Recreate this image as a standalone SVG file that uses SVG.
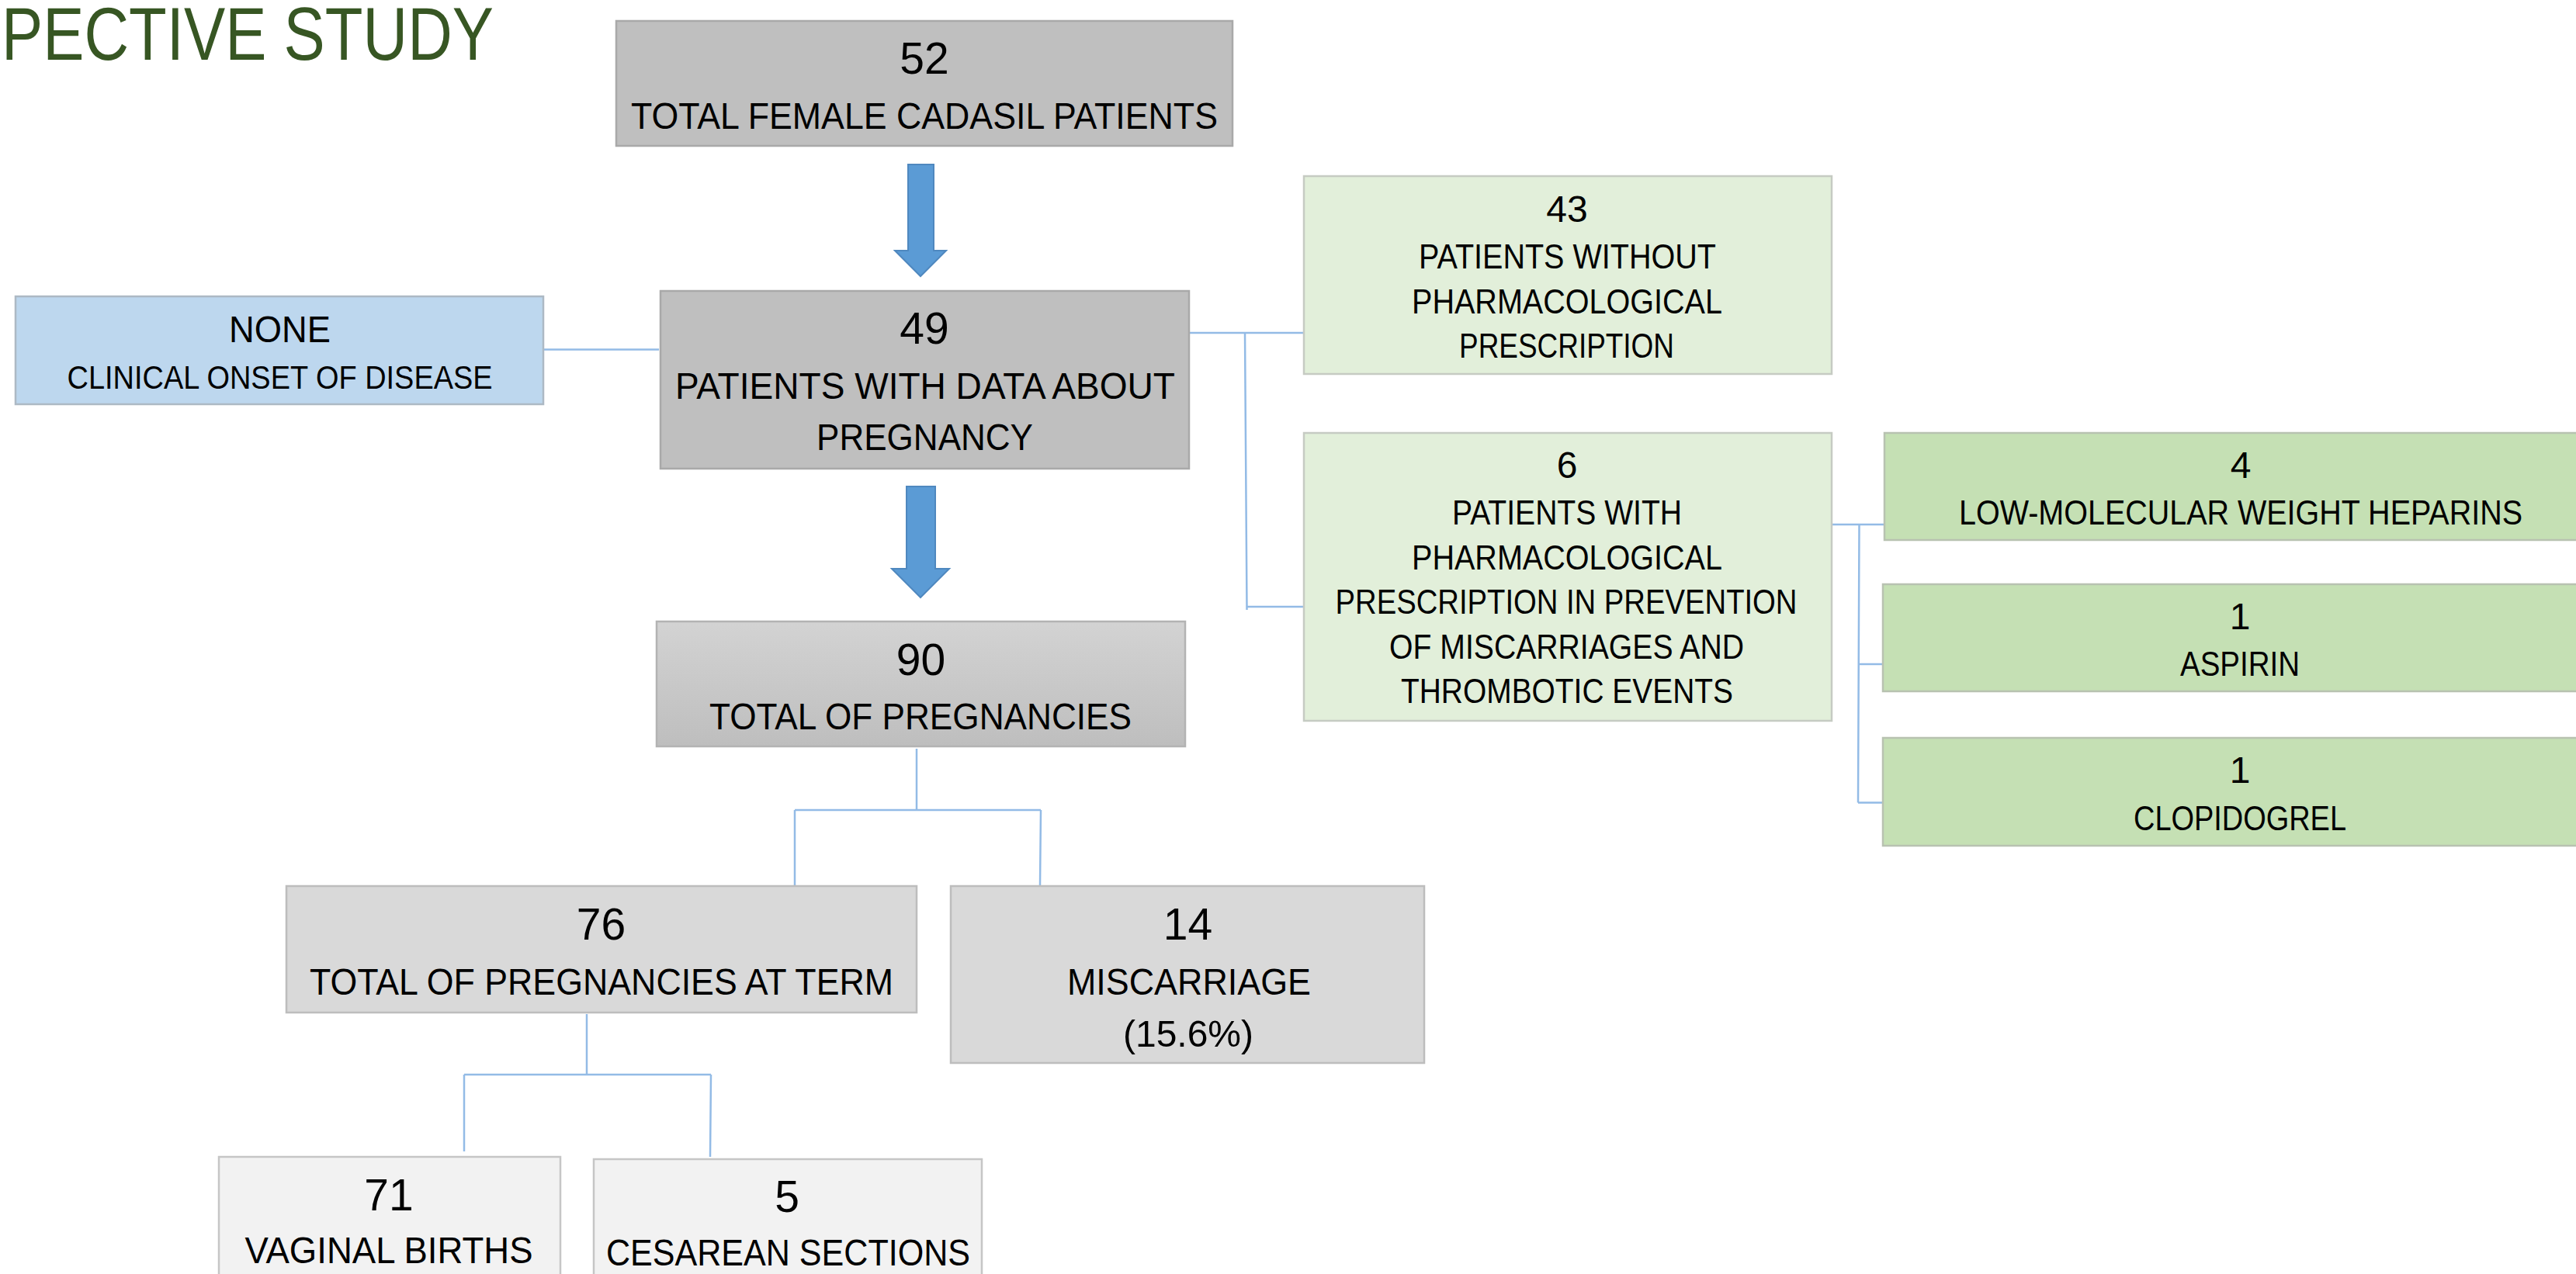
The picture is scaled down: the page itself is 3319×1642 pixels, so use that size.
<svg xmlns="http://www.w3.org/2000/svg" width="3319" height="1642" viewBox="0 0 3319 1642">
<style>
text{font-family:"Liberation Sans",Arial,sans-serif;fill:#000;text-anchor:middle}
.n{font-size:57px}
.l{font-size:49px}
.n2{font-size:48px}
.l2{font-size:44px}
.s{font-size:43px}
.g1{fill:#bfbfbf;stroke:#a9a9a9;stroke-width:2.5}
.g2{fill:#d9d9d9;stroke:#bdbdbd;stroke-width:2.5}
.g3{fill:#f2f2f2;stroke:#c6c6c6;stroke-width:2.5}
.bl{fill:#bdd7ee;stroke:#adb9c4;stroke-width:2.5}
.lg{fill:#e2efda;stroke:#c6cbc3;stroke-width:2.5}
.dg{fill:#c5e0b4;stroke:#b8c2b1;stroke-width:2.5}
.c{fill:none;stroke:#93bbe6;stroke-width:2.5}
.arr{fill:#5b9bd5;stroke:#4f88bf;stroke-width:2}
.title{font-size:97px;fill:#375623;text-anchor:start}
</style>
<defs>
<linearGradient id="gr90" x1="0" y1="0" x2="0" y2="1">
<stop offset="0" stop-color="#d3d3d3"/>
<stop offset="1" stop-color="#bebebe"/>
</linearGradient>
</defs>
<rect width="3319" height="1642" fill="#fff"/>
<text class="title" x="2" y="77" textLength="634" lengthAdjust="spacingAndGlyphs">PECTIVE STUDY</text>

<g id="connectors">
<path class="c" d="M700,450.5 H849"/>
<path class="c" d="M1532,429 H1680 M1604,429 L1606.5,786 M1606,782 H1684"/>
<path class="c" d="M2360,676 H2428 M2395.5,676 L2394,1034.5 M2395,856 H2427 M2394,1034.5 H2429"/>
<path class="c" d="M1181,965 V1044 M1024,1044 H1341 M1024,1044 V1142 M1341,1044 L1340,1141"/>
<path class="c" d="M756,1307 V1385 M598,1385 H916 M598,1385 V1484 M916,1385 L915,1491"/>
<path class="arr" d="M1170,212 H1203 V323 H1219 L1186,356 L1153,323 H1170 Z"/>
<path class="arr" d="M1168,627 H1205 V733 H1223 L1186,770 L1149,733 H1168 Z"/>
</g>

<g id="n52">
<rect class="g1" x="794" y="27" width="794" height="161"/>
<text class="n" x="1191" y="95">52</text>
<text class="l" x="1191" y="166" textLength="756" lengthAdjust="spacingAndGlyphs">TOTAL FEMALE CADASIL PATIENTS</text>
</g>

<g id="n49">
<rect class="g1" x="851" y="375" width="681" height="229"/>
<text class="n" x="1191" y="443">49</text>
<text class="l" x="1192" y="514" textLength="644" lengthAdjust="spacingAndGlyphs">PATIENTS WITH DATA ABOUT</text>
<text class="l" x="1191.5" y="580" textLength="279" lengthAdjust="spacingAndGlyphs">PREGNANCY</text>
</g>

<g id="nNone">
<rect class="bl" x="20" y="382" width="680" height="139"/>
<text class="l" x="360.5" y="441" textLength="131" lengthAdjust="spacingAndGlyphs">NONE</text>
<text class="s" x="360.6" y="501" textLength="548" lengthAdjust="spacingAndGlyphs">CLINICAL ONSET OF DISEASE</text>
</g>

<g id="n90">
<rect x="846" y="801" width="681" height="161" fill="url(#gr90)" stroke="#b3b3b3" stroke-width="2.5"/>
<text class="n" x="1186.5" y="869.5">90</text>
<text class="l" x="1186" y="940" textLength="544" lengthAdjust="spacingAndGlyphs">TOTAL OF PREGNANCIES</text>
</g>

<g id="n76">
<rect class="g2" x="369" y="1142" width="812" height="163"/>
<text class="n" x="774.5" y="1211">76</text>
<text class="l" x="775" y="1282" textLength="752" lengthAdjust="spacingAndGlyphs">TOTAL OF PREGNANCIES AT TERM</text>
</g>

<g id="n14">
<rect class="g2" x="1225" y="1142" width="610" height="228"/>
<text class="n" x="1530.5" y="1211">14</text>
<text class="l" x="1532" y="1282" textLength="314" lengthAdjust="spacingAndGlyphs">MISCARRIAGE</text>
<text class="l" x="1531" y="1349" textLength="168" lengthAdjust="spacingAndGlyphs">(15.6%)</text>
</g>

<g id="n71">
<rect class="g3" x="282" y="1491" width="440" height="220"/>
<text class="n" x="501" y="1560">71</text>
<text class="l" x="501" y="1628" textLength="371" lengthAdjust="spacingAndGlyphs">VAGINAL BIRTHS</text>
</g>

<g id="n5">
<rect class="g3" x="765" y="1494" width="500" height="220"/>
<text class="n" x="1014" y="1562">5</text>
<text class="l" x="1015.5" y="1631" textLength="469" lengthAdjust="spacingAndGlyphs">CESAREAN SECTIONS</text>
</g>

<g id="n43">
<rect class="lg" x="1680" y="227" width="680" height="255"/>
<text class="n2" x="2019" y="286">43</text>
<text class="l2" x="2019.5" y="346" textLength="383" lengthAdjust="spacingAndGlyphs">PATIENTS WITHOUT</text>
<text class="l2" x="2019" y="404" textLength="400" lengthAdjust="spacingAndGlyphs">PHARMACOLOGICAL</text>
<text class="l2" x="2018.5" y="461" textLength="277" lengthAdjust="spacingAndGlyphs">PRESCRIPTION</text>
</g>

<g id="n6">
<rect class="lg" x="1680" y="558" width="680" height="371"/>
<text class="n2" x="2019" y="616">6</text>
<text class="l2" x="2019" y="676" textLength="296" lengthAdjust="spacingAndGlyphs">PATIENTS WITH</text>
<text class="l2" x="2019" y="734" textLength="400" lengthAdjust="spacingAndGlyphs">PHARMACOLOGICAL</text>
<text class="l2" x="2018" y="791" textLength="595" lengthAdjust="spacingAndGlyphs">PRESCRIPTION IN PREVENTION</text>
<text class="l2" x="2018.5" y="849" textLength="457" lengthAdjust="spacingAndGlyphs">OF MISCARRIAGES AND</text>
<text class="l2" x="2019" y="906" textLength="428" lengthAdjust="spacingAndGlyphs">THROMBOTIC EVENTS</text>
</g>

<g id="n4">
<rect class="dg" x="2428" y="558" width="893" height="138"/>
<text class="n2" x="2887" y="616">4</text>
<text class="l2" x="2887" y="676" textLength="726" lengthAdjust="spacingAndGlyphs">LOW-MOLECULAR WEIGHT HEPARINS</text>
</g>

<g id="nAspirin">
<rect class="dg" x="2426" y="753" width="895" height="138"/>
<text class="n2" x="2886" y="811">1</text>
<text class="l2" x="2886" y="871" textLength="154" lengthAdjust="spacingAndGlyphs">ASPIRIN</text>
</g>

<g id="nClopidogrel">
<rect class="dg" x="2426" y="951" width="895" height="139"/>
<text class="n2" x="2886" y="1009">1</text>
<text class="l2" x="2886" y="1070" textLength="274" lengthAdjust="spacingAndGlyphs">CLOPIDOGREL</text>
</g>
</svg>
